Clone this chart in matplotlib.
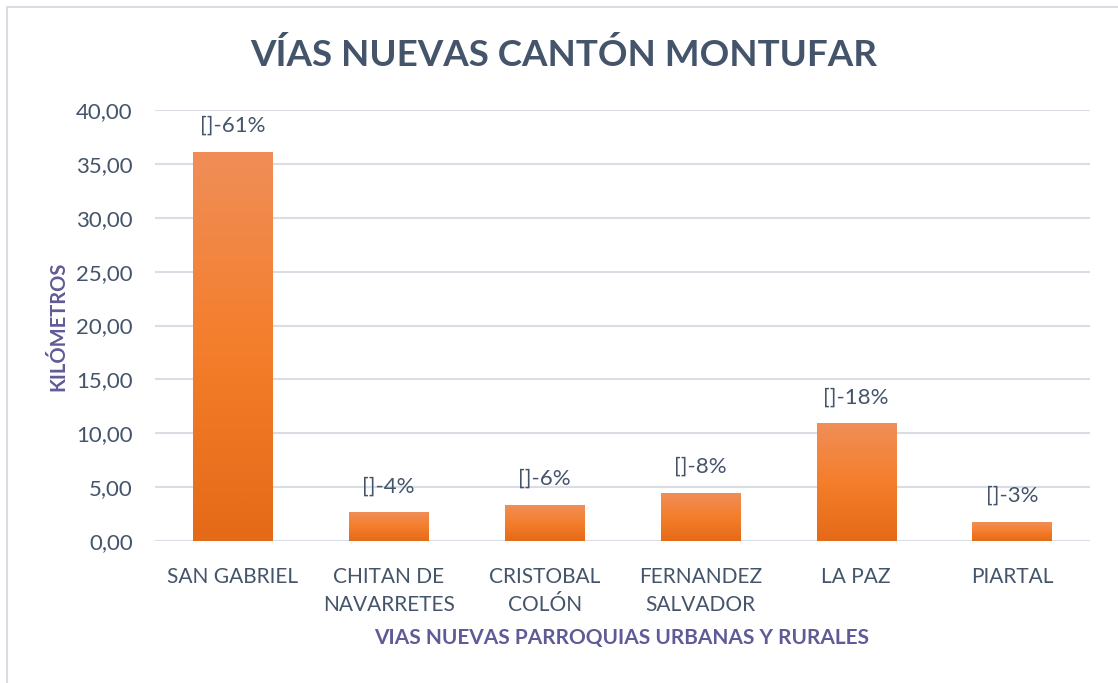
import numpy as np
import matplotlib.pyplot as plt
from matplotlib.colors import LinearSegmentedColormap
from matplotlib.patches import Rectangle

plt.rcParams['font.family'] = ['Lato', 'DejaVu Sans']

# kilómetros de vías nuevas por parroquia
parroquias = ["SAN GABRIEL", "CHITAN DE\nNAVARRETES", "CRISTOBAL\nCOLÓN",
              "FERNANDEZ\nSALVADOR", "LA PAZ", "PIARTAL"]
kilometros = [36.10, 2.60, 3.34, 4.45, 10.86, 1.76]
etiquetas = ["[]-61%", "[]-4%", "[]-6%", "[]-8%", "[]-18%", "[]-3%"]
y_ticks = [0, 5, 10, 15, 20, 25, 30, 35, 40]

texto = "#44546A"
morado = "#5F5B97"

fig = plt.figure(figsize=(11.18, 6.83), dpi=100)
fig.patches.append(Rectangle((7 / 1118, -0.1), 1.2, 1.1 - 7 / 683,
                             transform=fig.transFigure, fill=False,
                             edgecolor="#D9DDE3", linewidth=1.5))

ax = fig.add_axes([155 / 1118, 1 - 541 / 683, (1090 - 155) / 1118, (541 - 110) / 683])

# degradado vertical de cada barra (claro arriba, oscuro abajo)
cmap = LinearSegmentedColormap.from_list("naranja", ["#E56A18", "#F47E2B", "#F08E58"])
grad = np.linspace(0, 1, 256).reshape(-1, 1)
ancho = 0.51
x = np.arange(len(parroquias))
for xi, v, lab in zip(x, kilometros, etiquetas):
    ax.imshow(grad, cmap=cmap, origin="lower", aspect="auto",
              extent=[xi - ancho / 2, xi + ancho / 2, 0, v], zorder=3)
    ax.annotate(lab, (xi, v), xytext=(0, 12), textcoords="offset points",
                ha="center", va="bottom", fontsize=16, color=texto)

ax.set_xlim(-0.5, len(parroquias) - 0.5)
ax.set_ylim(0, 40)
ax.set_yticks(y_ticks)
ax.set_yticklabels([f"{t:.2f}".replace(".", ",") for t in y_ticks])
ax.set_xticks(x)
ax.set_xticklabels(parroquias, linespacing=1.45)
ax.tick_params(axis="both", length=0, labelsize=15, labelcolor=texto)
ax.tick_params(axis="y", labelsize=16, pad=16)
ax.tick_params(axis="x", pad=19)
ax.grid(axis="y", color="#D9DEE5", linewidth=1.5, zorder=0)
for s in ax.spines.values():
    s.set_visible(False)

fig.text(58 / 1118, 1 - 326 / 683, "KILÓMETROS", rotation=90,
         ha="center", va="center", fontsize=14.5, fontweight="bold", color=morado)
fig.text(622 / 1118, 1 - 638 / 683, "VIAS NUEVAS PARROQUIAS URBANAS Y RURALES",
         ha="center", va="center", fontsize=15, fontweight="bold", color=morado)
fig.text(564 / 1118, 1 - 55 / 683, "VÍAS NUEVAS CANTÓN MONTUFAR",
         ha="center", va="center", fontsize=26.5, fontweight="bold", color=texto)

fig.savefig("out.png", dpi=100)
